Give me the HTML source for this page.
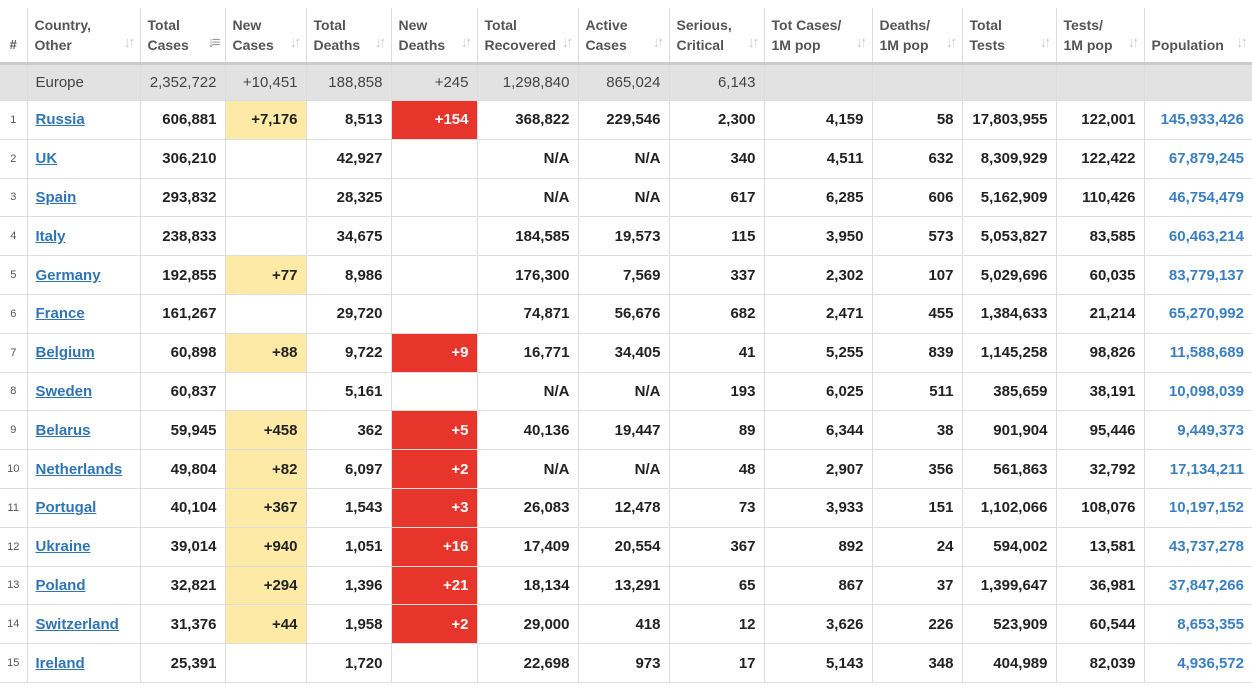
<!DOCTYPE html><html><head><style>
body{margin:0;background:#fff;font-family:"Liberation Sans",Arial,sans-serif;}
table{position:absolute;left:0;top:8px;border-collapse:collapse;table-layout:fixed;width:1252px;}
td,th{border-left:1px solid #ddd;border-bottom:1px solid #ddd;padding:0 8px;font-size:15px;color:#222;white-space:nowrap;overflow:hidden;}
td:first-child,th:first-child{border-left:none;}
th{font-size:14px;color:#555;text-align:left;font-weight:bold;line-height:20px;height:54px;border-bottom:3px solid #ccc;position:relative;padding:0 4px 0 7px;vertical-align:middle;}
th .s{position:absolute;right:7px;bottom:9px;color:#ccc;font-size:15px;letter-spacing:-3px;font-weight:bold;}
tr.eu td{background:#e2e2e2;color:#444;font-weight:normal;height:35px;text-align:right;}
tr.r td{height:37.8px;text-align:right;font-weight:bold;}
td.n{font-size:11px;color:#555;font-weight:normal!important;text-align:center!important;padding:0;}
td.c{text-align:left!important;}
td.c a{color:#2f75b5;text-decoration:underline;}
td.p{color:#3a7fc1!important;}
td.y{background:#fdeaa7;}
td.rd{background:#e8352b;color:#fff!important;}
</style></head><body>
<table>
<colgroup><col style="width:27px"><col style="width:113px"><col style="width:85px"><col style="width:81px"><col style="width:85px"><col style="width:86px"><col style="width:101px"><col style="width:91px"><col style="width:95px"><col style="width:108px"><col style="width:90px"><col style="width:94px"><col style="width:88px"><col style="width:108px"></colgroup>
<tr><th style="padding:0;text-align:center;font-size:13px"><div style="padding-top:20px">#</div></th><th>Country,<br>Other<span class="s">↓↑</span></th><th>Total<br>Cases<span class="s" style="color:#999">↓≡</span></th><th>New<br>Cases<span class="s">↓↑</span></th><th>Total<br>Deaths<span class="s">↓↑</span></th><th>New<br>Deaths<span class="s">↓↑</span></th><th>Total<br>Recovered<span class="s">↓↑</span></th><th>Active<br>Cases<span class="s">↓↑</span></th><th>Serious,<br>Critical<span class="s">↓↑</span></th><th>Tot Cases/<br>1M pop<span class="s">↓↑</span></th><th>Deaths/<br>1M pop<span class="s">↓↑</span></th><th>Total<br>Tests<span class="s">↓↑</span></th><th>Tests/<br>1M pop<span class="s">↓↑</span></th><th><div style="padding-top:20px">Population</div><span class="s">↓↑</span></th></tr>
<tr class="eu"><td></td><td class="c">Europe</td><td>2,352,722</td><td>+10,451</td><td>188,858</td><td>+245</td><td>1,298,840</td><td>865,024</td><td>6,143</td><td></td><td></td><td></td><td></td><td></td></tr>
<tr class="r"><td class="n">1</td><td class="c"><a>Russia</a></td><td>606,881</td><td class="y">+7,176</td><td>8,513</td><td class="rd">+154</td><td>368,822</td><td>229,546</td><td>2,300</td><td>4,159</td><td>58</td><td>17,803,955</td><td>122,001</td><td class="p">145,933,426</td></tr>
<tr class="r"><td class="n">2</td><td class="c"><a>UK</a></td><td>306,210</td><td></td><td>42,927</td><td></td><td>N/A</td><td>N/A</td><td>340</td><td>4,511</td><td>632</td><td>8,309,929</td><td>122,422</td><td class="p">67,879,245</td></tr>
<tr class="r"><td class="n">3</td><td class="c"><a>Spain</a></td><td>293,832</td><td></td><td>28,325</td><td></td><td>N/A</td><td>N/A</td><td>617</td><td>6,285</td><td>606</td><td>5,162,909</td><td>110,426</td><td class="p">46,754,479</td></tr>
<tr class="r"><td class="n">4</td><td class="c"><a>Italy</a></td><td>238,833</td><td></td><td>34,675</td><td></td><td>184,585</td><td>19,573</td><td>115</td><td>3,950</td><td>573</td><td>5,053,827</td><td>83,585</td><td class="p">60,463,214</td></tr>
<tr class="r"><td class="n">5</td><td class="c"><a>Germany</a></td><td>192,855</td><td class="y">+77</td><td>8,986</td><td></td><td>176,300</td><td>7,569</td><td>337</td><td>2,302</td><td>107</td><td>5,029,696</td><td>60,035</td><td class="p">83,779,137</td></tr>
<tr class="r"><td class="n">6</td><td class="c"><a>France</a></td><td>161,267</td><td></td><td>29,720</td><td></td><td>74,871</td><td>56,676</td><td>682</td><td>2,471</td><td>455</td><td>1,384,633</td><td>21,214</td><td class="p">65,270,992</td></tr>
<tr class="r"><td class="n">7</td><td class="c"><a>Belgium</a></td><td>60,898</td><td class="y">+88</td><td>9,722</td><td class="rd">+9</td><td>16,771</td><td>34,405</td><td>41</td><td>5,255</td><td>839</td><td>1,145,258</td><td>98,826</td><td class="p">11,588,689</td></tr>
<tr class="r"><td class="n">8</td><td class="c"><a>Sweden</a></td><td>60,837</td><td></td><td>5,161</td><td></td><td>N/A</td><td>N/A</td><td>193</td><td>6,025</td><td>511</td><td>385,659</td><td>38,191</td><td class="p">10,098,039</td></tr>
<tr class="r"><td class="n">9</td><td class="c"><a>Belarus</a></td><td>59,945</td><td class="y">+458</td><td>362</td><td class="rd">+5</td><td>40,136</td><td>19,447</td><td>89</td><td>6,344</td><td>38</td><td>901,904</td><td>95,446</td><td class="p">9,449,373</td></tr>
<tr class="r"><td class="n">10</td><td class="c"><a>Netherlands</a></td><td>49,804</td><td class="y">+82</td><td>6,097</td><td class="rd">+2</td><td>N/A</td><td>N/A</td><td>48</td><td>2,907</td><td>356</td><td>561,863</td><td>32,792</td><td class="p">17,134,211</td></tr>
<tr class="r"><td class="n">11</td><td class="c"><a>Portugal</a></td><td>40,104</td><td class="y">+367</td><td>1,543</td><td class="rd">+3</td><td>26,083</td><td>12,478</td><td>73</td><td>3,933</td><td>151</td><td>1,102,066</td><td>108,076</td><td class="p">10,197,152</td></tr>
<tr class="r"><td class="n">12</td><td class="c"><a>Ukraine</a></td><td>39,014</td><td class="y">+940</td><td>1,051</td><td class="rd">+16</td><td>17,409</td><td>20,554</td><td>367</td><td>892</td><td>24</td><td>594,002</td><td>13,581</td><td class="p">43,737,278</td></tr>
<tr class="r"><td class="n">13</td><td class="c"><a>Poland</a></td><td>32,821</td><td class="y">+294</td><td>1,396</td><td class="rd">+21</td><td>18,134</td><td>13,291</td><td>65</td><td>867</td><td>37</td><td>1,399,647</td><td>36,981</td><td class="p">37,847,266</td></tr>
<tr class="r"><td class="n">14</td><td class="c"><a>Switzerland</a></td><td>31,376</td><td class="y">+44</td><td>1,958</td><td class="rd">+2</td><td>29,000</td><td>418</td><td>12</td><td>3,626</td><td>226</td><td>523,909</td><td>60,544</td><td class="p">8,653,355</td></tr>
<tr class="r"><td class="n">15</td><td class="c"><a>Ireland</a></td><td>25,391</td><td></td><td>1,720</td><td></td><td>22,698</td><td>973</td><td>17</td><td>5,143</td><td>348</td><td>404,989</td><td>82,039</td><td class="p">4,936,572</td></tr>
</table>
</body></html>
